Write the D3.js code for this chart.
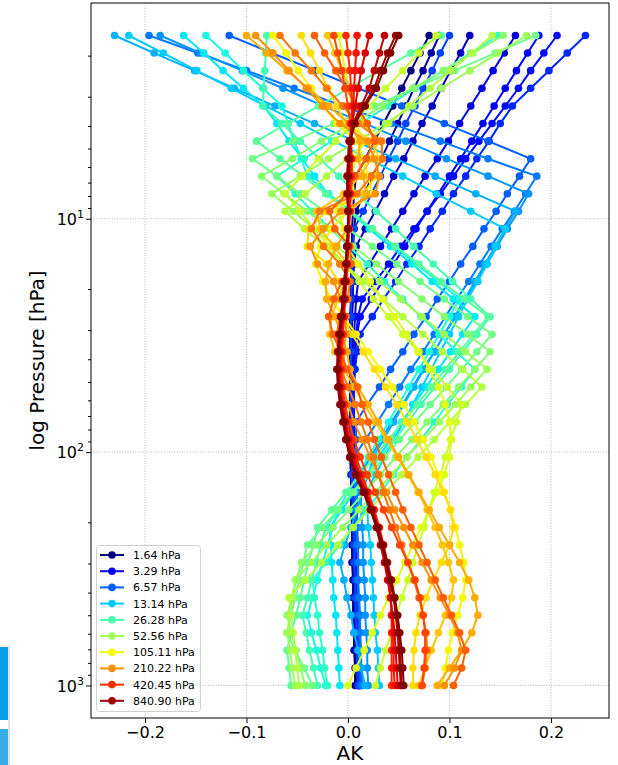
<!DOCTYPE html>
<html>
<head>
<meta charset="utf-8">
<title>AK profiles</title>
<script src="https://cdn.jsdelivr.net/npm/d3@7"></script>
<style>
  body { margin: 0; background: #fff; }
  svg { display: block; font-family: "DejaVu Sans", sans-serif; }
</style>
</head>
<body>
<script>
// pressure grid [hPa], top level first
var levels = [1.64, 1.95, 2.32, 2.76, 3.29, 3.91, 4.65, 5.53, 6.57, 7.82,
  9.29, 11.05, 13.14, 15.63, 18.58, 22.10, 26.28, 31.25, 37.16, 44.19,
  52.56, 62.50, 74.33, 88.39, 105.11, 125.00, 148.65, 176.78, 210.22, 250.00,
  297.30, 353.55, 420.45, 500.00, 594.60, 707.11, 840.90, 1000.00];

// one kernel per level, values in units of 1e-3
var ak0  = [80,71,62,53,44,35,26,17,8,6, 5,4,4,3,3,3,2,2,2,2, 2,2,2,2,2,3,3,3,4,4, 4,5,5,5,6,6,7,7];
var ak1  = [90,82,74,65,57,49,41,33,24,16, 8,6,5,5,4,4,4,3,3,3, 3,3,3,3,3,4,4,4,5,5, 5,6,6,7,7,8,8,9];
var ak2  = [120,111,101,92,83,73,64,55,45,36, 27,17,8,6,5,5,4,4,4,4, 4,4,4,4,4,5,5,5,6,6, 6,7,7,8,8,9,9,10];
var ak3  = [165,154,143,132,121,110,99,88,76,65, 54,43,32,21,10,8,7,6,6,5, 5,5,5,5,5,5,6,6,6,7, 7,8,8,9,9,10,10,11];
var ak4  = [188,177,166,155,144,133,122,111,100,89, 78,67,56,45,34,23,12,9,7,6, 6,6,6,6,6,6,7,7,7,8, 8,9,9,10,10,11,12,12];
var ak5  = [206,193,180,168,155,142,129,116,104,91, 78,65,52,40,27,14,10,8,7,6, 5,5,5,5,5,6,6,6,7,7, 7,8,8,9,9,10,10,11];
var ak6  = [234,216,198,180,162,150,139,127,116,104, 93,81,70,58,47,35,24,12,9,7, 6,6,5,5,5,5,6,6,6,7, 7,8,8,9,10,10,11,12];
var ak7  = [100,91,83,74,66,57,49,40,32,23, 15,6,5,4,4,3,3,3,3,3, 3,3,3,3,4,4,4,5,5,6, 6,7,7,8,8,9,9,10];
var ak8  = [-117,-75,-32,10,53,95,138,180,169,157, 146,134,123,111,100,88,77,65,54,42, 31,19,8,8,8,9,9,9,9,10, 10,10,10,11,11,11,12,12];
var ak9  = [-196,-148,-100,-53,-5,43,91,138,186,175, 164,152,141,130,119,107,96,85,74,62, 51,40,29,17,6,7,7,8,8,9, 10,10,11,12,12,13,13,14];
var ak10 = [-185,-145,-104,-64,-24,17,57,97,138,178, 168,157,147,137,126,116,106,95,85,74, 64,54,43,33,22,12,13,13,14,15, 15,16,17,17,18,19,19,20];
var ak11 = [-230,-191,-151,-112,-72,-33,7,47,86,126, 165,155,145,135,125,115,105,95,85,75, 65,55,45,35,25,20,14,9,3,-3, -8,-4,-1,3,6,10,13,17];
var ak12 = [-216,-182,-149,-115,-81,-47,-14,20,54,87, 121,155,146,137,128,118,109,100,91,82, 73,64,55,45,36,27,18,19,20,22, 23,24,25,26,27,29,30,31];
var ak13 = [-162,-142,-123,-103,-83,-70,-58,-45,-33,-20, 1,21,42,63,83,104,125,113,101,89, 77,65,53,42,30,18,6,-6,-18,-17, -16,-15,-14,-12,-11,-10,-9,-8];
var ak14 = [-140,-121,-103,-84,-65,-59,-53,-46,-40,-19, 3,24,46,67,89,110,100,90,80,70, 60,50,40,30,20,10,0,-10,-15,-20, -25,-30,-35,-40,-36,-31,-27,-22];
var ak15 = [148,121,94,66,39,12,-16,-43,-70,-52, -35,-17,1,19,36,54,72,90,107,125, 112,98,85,72,58,45,32,18,5,-8, -22,-35,-33,-30,-28,-25,-23,-20];
var ak16 = [-80,-81,-82,-83,-84,-65,-47,-28,-9,9, 28,47,65,84,103,121,140,127,113,100, 86,72,59,46,32,18,5,-9,-22,-27, -31,-36,-40,-45,-41,-38,-34,-30];
var ak17 = [92,62,31,1,-29,-60,-90,-67,-44,-22, 1,24,47,70,92,115,138,124,110,96, 82,68,54,40,26,12,-2,-16,-30,-34, -39,-43,-47,-51,-56,-60,-58,-56];
var ak18 = [185,145,105,65,26,-14,-54,-94,-70,-47, -23,0,24,48,71,95,118,142,127,112, 97,81,66,51,36,21,5,-10,-25,-40, -44,-48,-52,-56,-60,-52,-43,-35];
var ak19 = [153,123,94,64,34,4,-26,-55,-85,-63, -40,-18,5,28,50,73,95,118,140,125, 109,94,78,63,47,32,16,1,-15,-31, -46,-51,-55,-60,-56,-51,-47,-42];
var ak20 = [176,148,120,92,64,37,9,-19,-47,-75, -54,-33,-11,10,31,52,73,95,116,137, 121,106,90,74,58,43,27,11,-5,-21, -36,-52,-55,-57,-60,-57,-55,-52];
var ak21 = [142,122,101,81,60,40,20,-1,-21,-42, -62,-43,-23,-4,16,35,54,74,93,113, 132,116,100,85,69,53,37,21,5,-10, -26,-42,-58,-56,-54,-52,-50,-48];
var ak22 = [87,70,54,37,21,4,-12,-29,-45,-62, -47,-33,-18,-4,11,25,40,54,69,83, 98,112,107,101,96,91,85,80,75,69, 64,59,53,48,43,37,32,27];
var ak23 = [-9,-6,-3,1,4,7,16,7,4,6, -10,-4,-1,10,22,34,46,58,70,80, 89,96,100,102,100,95,88,80,72,64, 56,48,40,32,24,16,8,0];
var ak24 = [-74,-61,-49,-36,-24,-11,9,15,20,24, 0,-16,-27,-32,-25,-17,-4,8,20,32, 44,55,65,74,82,89,95,101,106,110, 114,116,113,108,103,99,96,93];
var ak25 = [-46,-37,-28,-20,-11,-2,23,31,28,15, -21,-39,-40,-21,-9,-3,-5,4,15,26, 37,48,58,68,77,86,94,101,104,100, 92,84,77,71,67,65,64,64];
var ak26 = [-20,-13,-6,2,9,16,30,23,12,-4, -31,-27,-14,0,-1,-10,-16,-18,-13,-4, 6,16,27,38,49,59,69,78,86,93, 99,104,102,96,89,82,76,70];
var ak27 = [-100,-80,-60,-39,-19,1,12,10,15,18, 3,-1,-11,-19,-22,-21,-13,-6,-1,2, 10,20,30,40,50,60,70,80,90,100, 110,119,125,128,122,112,100,88];
var ak28 = [-91,-74,-58,-41,-25,-8,19,26,31,27, -7,-24,-37,-30,-14,-7,-2,-2,-4,-4, -5,0,6,14,22,30,38,46,55,64, 73,82,91,100,108,112,105,95];
var ak29 = [-67,-52,-36,-21,-5,10,33,34,23,9, -28,-36,-24,-8,2,0,-8,-11,-10,-7, 0,7,13,19,25,30,35,41,47,53, 59,65,70,74,77,78,76,73];
var ak30 = [-33,-23,-12,-2,9,19,26,18,7,-1, -18,-13,2,3,-6,-14,-19,-15,-7,-1, 9,14,20,26,33,40,47,54,62,70, 78,86,94,102,110,116,112,104];
var ak31 = [-14,-10,-6,-3,0,2,3,4,4,3, 2,1,0,-1,-2,-3,-4,-5,-6,-6, -5,-3,1,6,12,19,27,35,43,51, 59,66,71,74,76,76,75,73];
var ak32 = [-2,0,2,3,4,3,3,3,3,2, 2,1,0,-1,-2,-3,-4,-5,-6,-7, -6,-4,-1,3,8,14,20,26,31,35, 38,40,42,43,43,43,43,43];
var ak33 = [9,8,7,6,5,4,3,3,2,2, 1,1,0,-1,-2,-3,-4,-6,-7,-8, -7,-5,-2,1,6,12,19,25,30,34, 37,40,42,43,44,45,45,46];
var ak34 = [21,17,13,10,7,4,3,2,1,1, 1,0,0,-1,-2,-3,-5,-7,-8,-9, -8,-6,-3,0,4,10,17,23,28,32, 36,39,42,44,46,47,48,49];
var ak35 = [36,31,26,21,13,5,1,0,-1,-1, 0,0,-1,-2,-4,-5,-7,-8,-10,-10, -9,-6,-3,0,4,10,17,24,30,35, 39,43,46,48,50,51,52,53];
var ak36 = [47,39,32,26,15,6,2,1,0,0, 0,0,-1,-2,-3,-5,-7,-9,-10,-11, -10,-8,-5,-2,2,7,15,22,28,33, 37,41,45,47,49,50,51,52];
var ak37 = [50,42,35,28,17,7,2,1,0,0, 0,0,-1,-2,-3,-4,-6,-8,-9,-10, -9,-7,-4,-2,2,8,16,23,29,34, 38,42,46,49,51,53,54,55];

var xTicks = [-0.2, -0.1, 0.0, 0.1, 0.2];
var yTicks = [10, 100, 1000];
var legendStep = 4;   // every 4th level goes in the legend

var rows = [ak0, ak1, ak2, ak3, ak4, ak5, ak6, ak7, ak8, ak9, ak10, ak11, ak12,
  ak13, ak14, ak15, ak16, ak17, ak18, ak19, ak20, ak21, ak22, ak23, ak24, ak25,
  ak26, ak27, ak28, ak29, ak30, ak31, ak32, ak33, ak34, ak35, ak36, ak37];
var unit = 0.001;

var W = 618, H = 765;
var box = { left: 91, right: 609, top: 3, bottom: 718 };

var svg = d3.select("body").append("svg")
  .attr("width", W)
  .attr("height", H);

// matplotlib "jet"
function jet(t) {
  function seg(pts) {
    for (var k = 1; k < pts.length; k++) {
      if (t <= pts[k][0]) {
        var a = pts[k - 1], b = pts[k];
        return a[1] + (b[1] - a[1]) * (t - a[0]) / (b[0] - a[0]);
      }
    }
    return pts[pts.length - 1][1];
  }
  var r = seg([[0, 0], [0.35, 0], [0.66, 1], [0.89, 1], [1, 0.5]]);
  var g = seg([[0, 0], [0.125, 0], [0.375, 1], [0.64, 1], [0.91, 0], [1, 0]]);
  var b = seg([[0, 0.5], [0.11, 1], [0.34, 1], [0.65, 0], [1, 0]]);
  return d3.rgb(r * 255, g * 255, b * 255).formatHex();
}
function colorOf(i) { return jet(i / (rows.length - 1)); }

// scales with 5% margins like matplotlib
var allVals = d3.merge(rows).map(function(v) { return v * unit; });
var xMin = d3.min(allVals), xMax = d3.max(allVals);
var xPad = 0.05 * (xMax - xMin);
var x = d3.scaleLinear()
  .domain([xMin - xPad, xMax + xPad])
  .range([box.left, box.right]);

var lpMin = Math.log10(d3.min(levels)), lpMax = Math.log10(d3.max(levels));
var lpPad = 0.05 * (lpMax - lpMin);
var y = d3.scaleLog()
  .domain([Math.pow(10, lpMin - lpPad), Math.pow(10, lpMax + lpPad)])
  .range([box.top, box.bottom]);

// grid
var grid = svg.append("g")
  .attr("stroke", "#b0b0b0")
  .attr("stroke-width", 0.9)
  .attr("stroke-dasharray", "1,1.6");
grid.selectAll("line.gx").data(xTicks).enter().append("line")
  .attr("x1", function(d) { return x(d); })
  .attr("x2", function(d) { return x(d); })
  .attr("y1", box.top).attr("y2", box.bottom);
grid.selectAll("line.gy").data(yTicks).enter().append("line")
  .attr("y1", function(d) { return y(d); })
  .attr("y2", function(d) { return y(d); })
  .attr("x1", box.left).attr("x2", box.right);

// kernels
var line = d3.line()
  .x(function(d) { return x(d.v); })
  .y(function(d) { return y(d.p); });

var plot = svg.append("g");
rows.forEach(function(row, i) {
  var pts = row.map(function(v, j) { return { v: v * unit, p: levels[j] }; });
  var c = colorOf(i);
  var g = plot.append("g");
  g.append("path")
    .attr("d", line(pts))
    .attr("fill", "none")
    .attr("stroke", c)
    .attr("stroke-width", 2)
    .attr("stroke-linejoin", "round");
  g.selectAll("circle").data(pts).enter().append("circle")
    .attr("cx", function(d) { return x(d.v); })
    .attr("cy", function(d) { return y(d.p); })
    .attr("r", 3.8)
    .attr("fill", c);
});

// axes
var xAxis = svg.append("g")
  .attr("transform", "translate(0," + box.bottom + ")")
  .call(d3.axisBottom(x).tickValues(xTicks).tickSize(5).tickPadding(4)
    .tickFormat(d3.format(".1f")));
xAxis.select(".domain").remove();
xAxis.selectAll("text").attr("font-size", 16).attr("fill", "#000")
  .attr("font-family", "DejaVu Sans");

var minor = [];
[1, 10, 100].forEach(function(dec) {
  for (var m = 2; m <= 9; m++) minor.push(m * dec);
});
minor = minor.filter(function(v) { return v > y.domain()[0] && v < y.domain()[1]; });

var yMinor = svg.append("g")
  .attr("transform", "translate(" + box.left + ",0)")
  .call(d3.axisLeft(y).tickValues(minor).tickSize(3).tickFormat(""));
yMinor.select(".domain").remove();

var yAxis = svg.append("g")
  .attr("transform", "translate(" + box.left + ",0)")
  .call(d3.axisLeft(y).tickValues(yTicks).tickSize(5).tickFormat(""));
yAxis.select(".domain").remove();

svg.append("g").selectAll("text").data(yTicks).enter().append("text")
  .attr("x", 84)
  .attr("y", function(d) { return y(d) + 6; })
  .attr("text-anchor", "end")
  .attr("font-size", 16)
  .each(function(d) {
    var t = d3.select(this);
    t.append("tspan").text("10");
    t.append("tspan").attr("font-size", 11).attr("dy", -7)
      .text(String(Math.round(Math.log10(d))));
  });

// frame
svg.append("rect")
  .attr("x", box.left).attr("y", box.top)
  .attr("width", box.right - box.left)
  .attr("height", box.bottom - box.top)
  .attr("fill", "none")
  .attr("stroke", "#000")
  .attr("stroke-width", 1);

// axis titles
svg.append("text")
  .attr("x", (box.left + box.right) / 2)
  .attr("y", 760)
  .attr("text-anchor", "middle")
  .attr("font-size", 20)
  .text("AK");

svg.append("text")
  .attr("transform", "translate(44," + (box.top + box.bottom) / 2 + ") rotate(-90)")
  .attr("text-anchor", "middle")
  .attr("font-size", 20)
  .text("log Pressure [hPa]");

// legend
var legIdx = d3.range(0, rows.length, legendStep).filter(function(i) { return i < rows.length - 1; });
var leg = svg.append("g");
leg.append("rect")
  .attr("x", 96.5).attr("y", 545.5)
  .attr("width", 104).attr("height", 166)
  .attr("rx", 3)
  .attr("fill", "#fff").attr("fill-opacity", 0.8)
  .attr("stroke", "#d0d0d0");
var item = leg.selectAll("g.item").data(legIdx).enter().append("g")
  .attr("transform", function(d, k) { return "translate(0," + (555 + k * 16.2) + ")"; });
item.append("line")
  .attr("x1", 100).attr("x2", 124)
  .attr("stroke", function(d) { return colorOf(d); })
  .attr("stroke-width", 2);
item.append("circle")
  .attr("cx", 112).attr("r", 3.8)
  .attr("fill", function(d) { return colorOf(d); });
item.append("text")
  .attr("x", 133).attr("dy", "0.36em")
  .attr("font-size", 11)
  .text(function(d) { return levels[d].toFixed(2) + " hPa"; });

// window edge at the lower left
svg.append("rect").attr("x", 0).attr("y", 647).attr("width", 8).attr("height", 73).attr("fill", "#0a9fe8");
svg.append("rect").attr("x", 0).attr("y", 729).attr("width", 8).attr("height", 36).attr("fill", "#38aee8");
svg.append("rect").attr("x", 8).attr("y", 645).attr("width", 2).attr("height", 120).attr("fill", "#e4e4e4");
</script>
</body>
</html>
